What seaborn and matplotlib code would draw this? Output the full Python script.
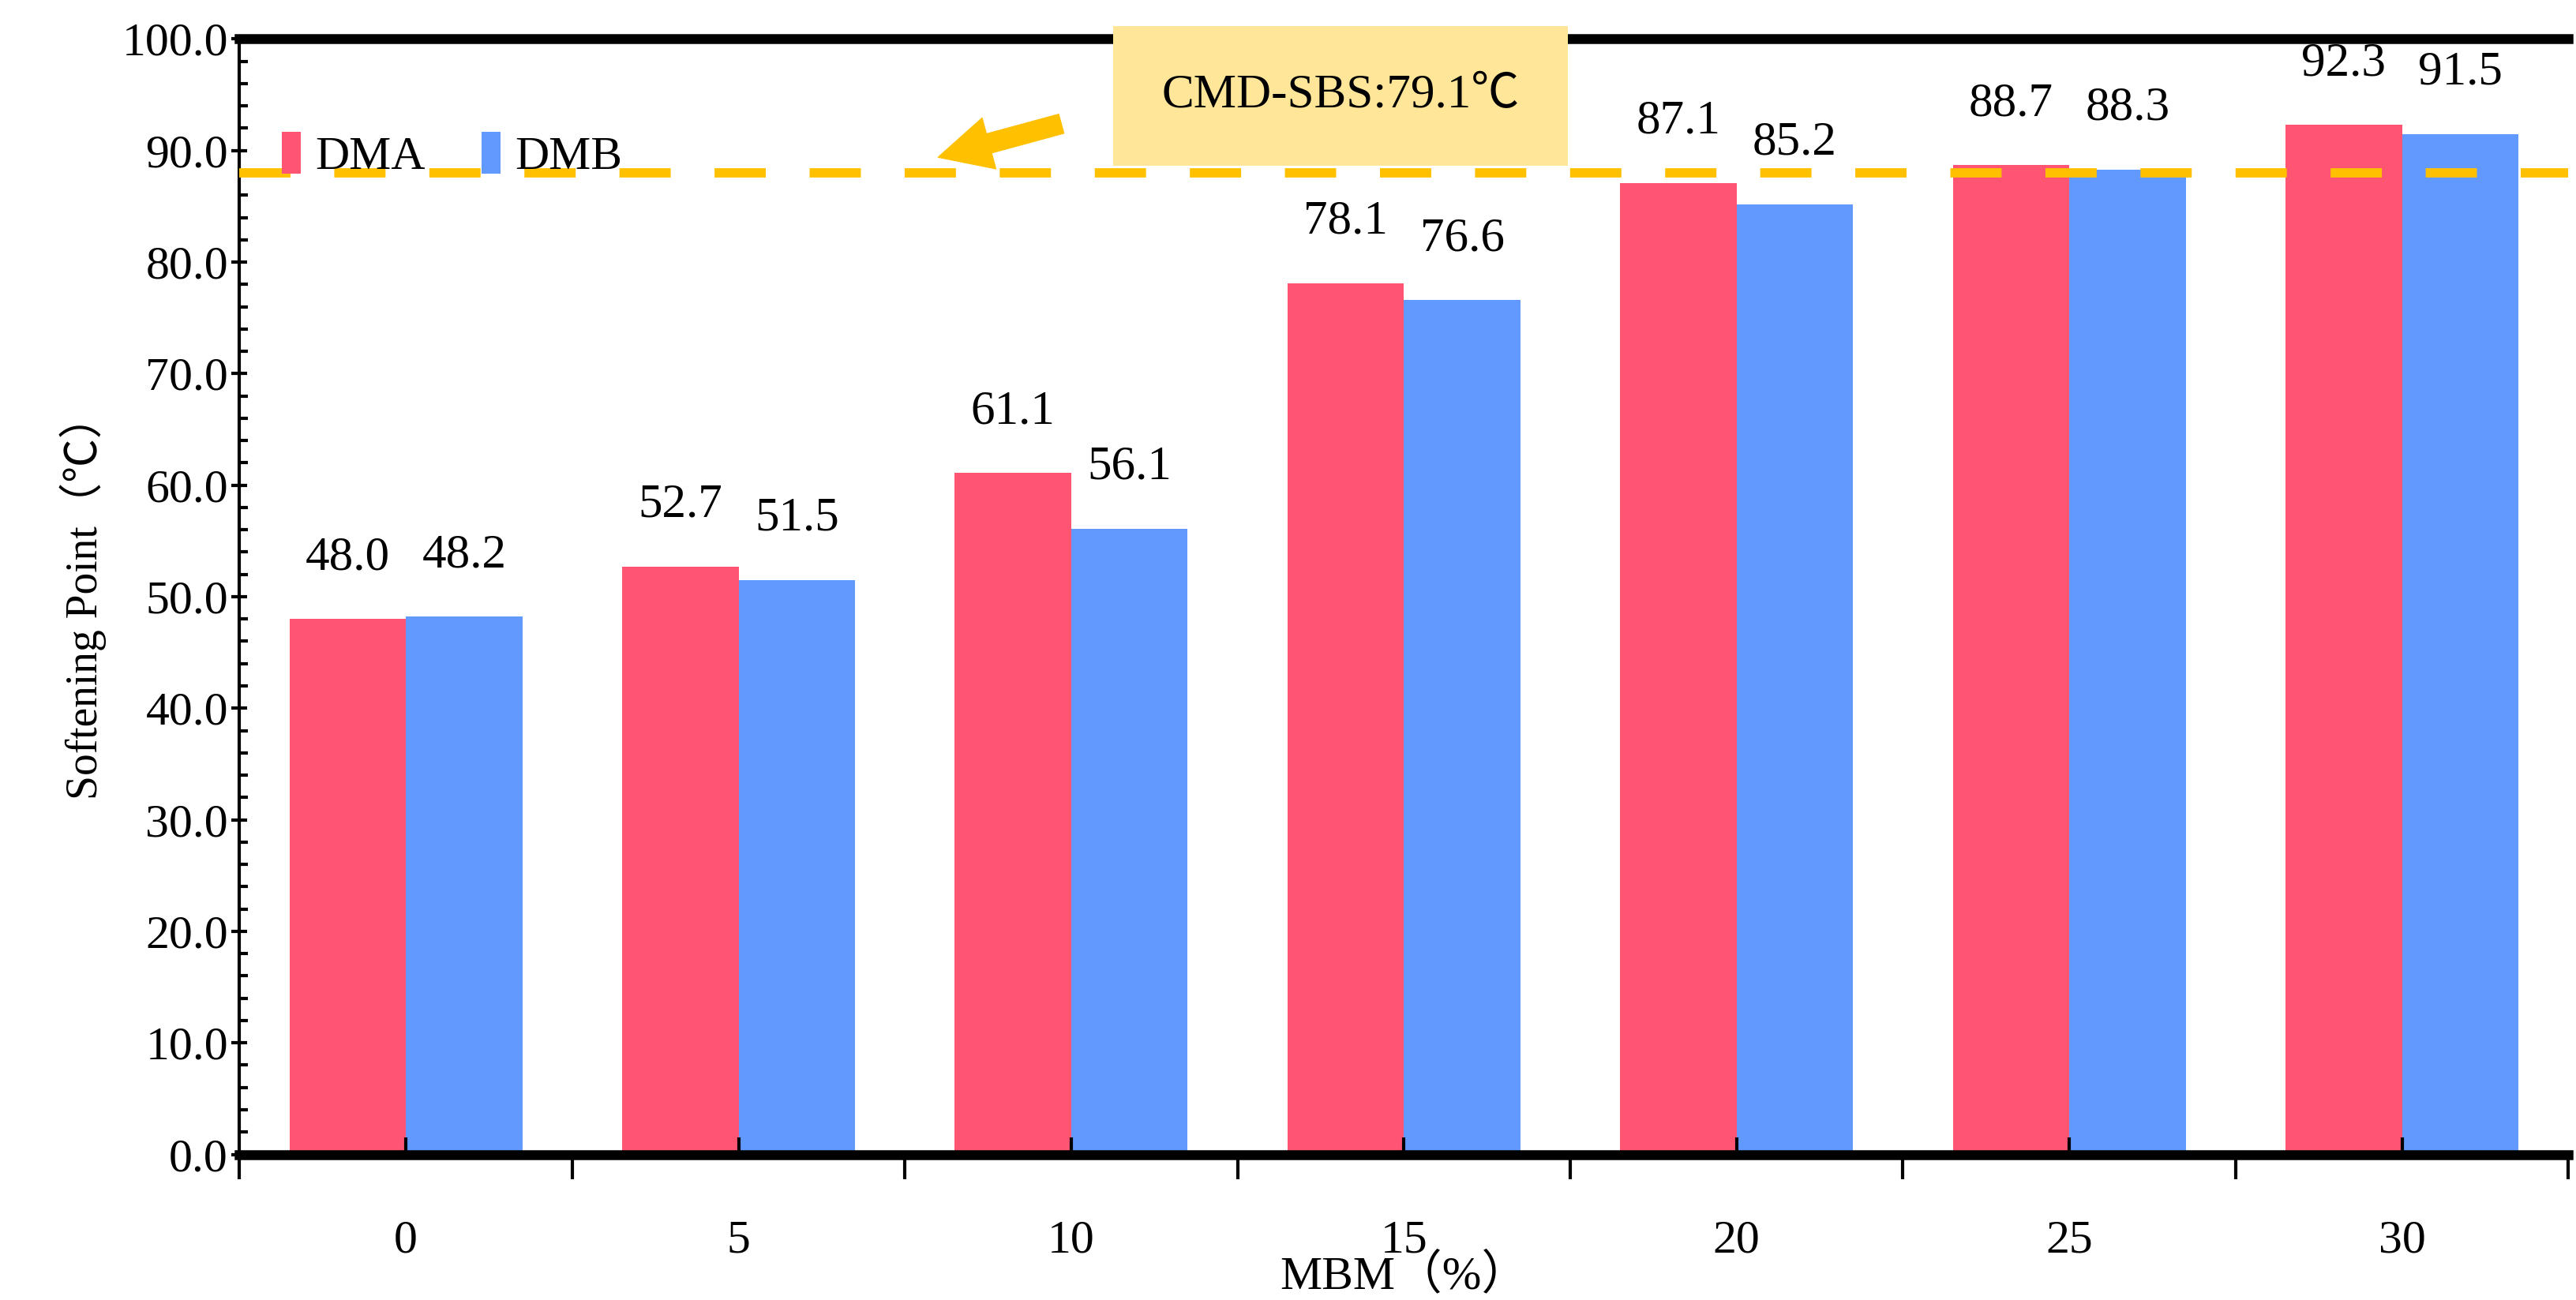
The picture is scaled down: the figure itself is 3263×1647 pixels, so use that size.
import numpy as np
import pandas as pd
import matplotlib.pyplot as plt
import seaborn as sns
from matplotlib.ticker import MultipleLocator

plt.rcParams['font.family'] = ['Liberation Serif', 'Noto Sans CJK JP', 'Noto Sans CJK SC', 'DejaVu Sans']

mbm = ['0', '5', '10', '15', '20', '25', '30']
dma = [48.0, 52.7, 61.1, 78.1, 87.1, 88.7, 92.3]
dmb = [48.2, 51.5, 56.1, 76.6, 85.2, 88.3, 91.5]
cmd_sbs = 88.0

df = pd.DataFrame({
    'MBM': mbm * 2,
    'value': dma + dmb,
    'group': ['DMA'] * len(mbm) + ['DMB'] * len(mbm),
})

fig = plt.figure(figsize=(32.63, 16.47), dpi=100)
ax = fig.add_axes([0.093, 0.112, 0.904, 0.858])

sns.barplot(data=df, x='MBM', y='value', hue='group', order=mbm,
            palette=['#FF5572', '#6199FF'], width=0.7, gap=0,
            saturation=1, ax=ax)

for c in ax.containers:
    ax.bar_label(c, fmt='%.1f', padding=36, fontsize=44)

ax.axhline(cmd_sbs, color='#FFC000', lw=8.5, dashes=(5.5, 4.7), zorder=5)

# label box
ax.text(2.81, 94.9, 'CMD-SBS:79.1℃', fontsize=44, ha='center', va='center',
        bbox=dict(boxstyle='square,pad=1.0', fc='#FFE699', ec='none'), zorder=6)
ax.annotate('', xy=(1.6, 89.4), xytext=(1.97, 92.4),
            arrowprops=dict(arrowstyle='simple,head_width=1.2,head_length=1.2,tail_width=0.45',
                            fc='#FFC000', ec='#FFC000', shrinkA=0, shrinkB=0,
                            mutation_scale=40), zorder=6)

ax.set_xlim(-0.5, 6.5)
ax.set_ylim(0, 100)
ax.yaxis.set_major_locator(MultipleLocator(10))
ax.yaxis.set_minor_locator(MultipleLocator(2))
ax.yaxis.set_major_formatter('{x:.1f}')
ax.tick_params(axis='y', which='major', direction='inout', length=14, width=3, labelsize=43)
ax.tick_params(axis='y', which='minor', direction='in', length=8, width=3)

ax.set_xticks(np.arange(-0.5, 7, 1))
ax.set_xticklabels([])
ax.set_xticks(np.arange(len(mbm)), minor=True)
ax.set_xticklabels(mbm, minor=True)
ax.tick_params(axis='x', which='major', direction='out', length=22, width=3)
ax.tick_params(axis='x', which='minor', direction='in', length=16, width=3,
               labelsize=43, pad=60)

ax.set_xlabel('MBM（%）', fontsize=43, labelpad=-8)
ax.set_ylabel('Softening Point（℃）', fontsize=40, labelpad=14)

ax.spines['right'].set_visible(False)
ax.spines['top'].set_linewidth(9)
ax.spines['bottom'].set_linewidth(9)
ax.spines['left'].set_linewidth(3)

ax.legend(loc='upper left', bbox_to_anchor=(0.0, 0.955), frameon=False,
          fontsize=43, handlelength=0.4, handleheight=1.0, handletextpad=0.3,
          ncol=2, columnspacing=1.2, title=None)

fig.savefig('out.png', dpi=100)
